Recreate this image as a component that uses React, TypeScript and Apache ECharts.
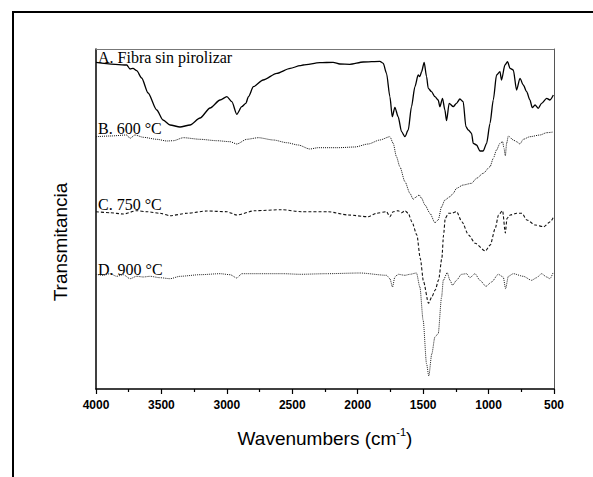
import React, { useEffect, useRef } from "react";
import * as echarts from "echarts";

// Wavenumber ticks (cm-1)
const xTicks = [4000, 3500, 3000, 2500, 2000, 1500, 1000, 500];

// Curve labels
const curveLabels = ["A. Fibra sin pirolizar", "B. 600 °C", "C. 750 °C", "D. 900 °C"];

// A. Fibra sin pirolizar (solid)
const aWave = [4000, 3765, 3740, 3717, 3689, 3651, 3602, 3536, 3488, 3434, 3358, 3281, 3205, 3128, 3052, 3000, 2962, 2924, 2886, 2855, 2835, 2797, 2723, 2618, 2516, 2440, 2417, 2289, 2188, 2136, 2060, 1958, 1831, 1805, 1780, 1754, 1736, 1716, 1691, 1665, 1639, 1614, 1589, 1563, 1538, 1525, 1512, 1492, 1474, 1461, 1436, 1410, 1385, 1372, 1352, 1334, 1321, 1301, 1270, 1245, 1219, 1194, 1173, 1155, 1130, 1117, 1092, 1066, 1041, 1015, 989, 964, 939, 913, 901, 875, 855, 836, 811, 786, 760, 735, 709, 684, 666, 645, 620, 595, 556, 531, 505];
const aTrans = [326.7, 324, 320, 320.7, 318.3, 311, 296, 279, 269, 264, 262, 264, 271, 281, 289, 292.3, 287.3, 274.7, 282.3, 285.7, 292.3, 302.3, 309, 315.7, 320.7, 323.3, 324, 326.3, 326.7, 325, 324.7, 327, 327.7, 325.7, 315.7, 292.3, 272.3, 281.7, 272.3, 257.3, 252.3, 259, 282.3, 302.3, 314, 312.3, 317.3, 326.7, 312.3, 300.7, 297.3, 292.3, 289, 282.3, 290.7, 279, 268.3, 285.7, 282.3, 285.7, 290, 287.3, 262.3, 259, 255.7, 245.7, 244, 238, 238, 245.7, 265.7, 289, 314, 317.3, 309, 324, 327.3, 320.7, 319, 299, 310.7, 304, 297.3, 289, 281.3, 284, 280.7, 285.7, 290.7, 289, 294];

// B. 600 °C (dotted)
const bWave = [4000, 3893, 3765, 3740, 3702, 3638, 3536, 3459, 3409, 3332, 3205, 3077, 2975, 2924, 2848, 2759, 2644, 2542, 2455, 2366, 2302, 2149, 2022, 1920, 1831, 1754, 1729, 1704, 1678, 1639, 1601, 1576, 1551, 1530, 1512, 1486, 1448, 1410, 1385, 1359, 1334, 1295, 1270, 1245, 1194, 1130, 1092, 1041, 989, 964, 939, 913, 893, 882, 872, 862, 849, 811, 786, 760, 735, 684, 607, 556, 505];
const bTrans = [252.3, 253, 254, 250.7, 254, 251.7, 249.7, 248, 248.3, 251.3, 249.7, 248.3, 247.3, 245, 249.7, 251.3, 249, 246.3, 244, 240, 241.3, 241.3, 242, 245, 249, 252.3, 245.7, 232.3, 222.3, 207.3, 195.7, 189.7, 192.3, 194, 190.7, 184, 175.7, 166.3, 169, 182.3, 189, 192.3, 195.7, 200.7, 204, 205.7, 210.7, 215.7, 222.3, 230.7, 239, 245.7, 247.3, 240.7, 233, 245.7, 253, 249, 247.3, 245, 249.7, 252.3, 254, 256.3, 257];

// C. 750 °C (dashed)
const cWave = [4000, 3893, 3791, 3689, 3612, 3511, 3434, 3306, 3153, 3000, 2924, 2786, 2583, 2430, 2226, 2073, 1920, 1857, 1780, 1754, 1729, 1691, 1665, 1639, 1614, 1586, 1548, 1522, 1497, 1459, 1433, 1408, 1382, 1357, 1344, 1331, 1306, 1285, 1245, 1204, 1153, 1102, 1025, 987, 949, 924, 893, 872, 859, 834, 786, 745, 707, 643, 579, 528, 503];
const cTrans = [177.3, 176.3, 175, 178.3, 177.3, 175.7, 173.3, 175.7, 178, 177.3, 174, 178.3, 179.3, 177.3, 177.3, 174, 172.3, 175.7, 177.3, 172.3, 177.3, 178.3, 176.3, 178.3, 175.7, 167.3, 154, 130.7, 107.3, 85.7, 92.3, 99, 109, 130.7, 154, 170.7, 175.7, 175.7, 177.3, 167.3, 154, 145.7, 138, 144, 160.7, 174, 178.3, 156, 170.7, 174, 175.7, 175.7, 169, 164, 162.3, 167.3, 172.3];

// D. 900 °C (dotted)
const dWave = [4000, 3944, 3893, 3842, 3791, 3740, 3689, 3638, 3587, 3511, 3434, 3358, 3205, 3052, 2975, 2924, 2886, 2746, 2568, 2440, 2239, 1983, 1780, 1754, 1734, 1716, 1691, 1639, 1601, 1551, 1525, 1500, 1474, 1457, 1434, 1410, 1385, 1359, 1346, 1316, 1295, 1275, 1245, 1207, 1168, 1143, 1104, 1066, 1020, 977, 926, 888, 870, 849, 811, 735, 671, 633, 595, 556, 531, 505];
const dTrans = [114.7, 113.7, 115.3, 112.7, 114.3, 110.3, 112.7, 112, 112.7, 111.3, 110.3, 112.7, 114.3, 115.3, 114.3, 111, 115.3, 115.3, 115.3, 114.7, 115.3, 116, 113.7, 110.3, 102, 112, 114.7, 113.7, 114.7, 116, 102, 68.7, 25.3, 13, 35, 52, 55.3, 92, 108.7, 116.3, 108.7, 103.7, 108.7, 114.7, 115.3, 111.3, 115.3, 108.7, 102.7, 107, 114.7, 112, 100.3, 112.7, 115.3, 112.7, 108.7, 111.3, 115.3, 112, 110.3, 117];

const zip = (w: number[], t: number[]) => w.map((v, i) => [v, t[i]]);

export default function App() {
  const ref = useRef<HTMLDivElement>(null);
  useEffect(() => {
    if (!ref.current) return;
    const chart = echarts.init(ref.current, null, { renderer: "svg" });
    const serif = "'Liberation Serif', 'Times New Roman', serif";
    const sans = "'Liberation Sans', Arial, sans-serif";
    const mkSeries = (data: number[][], dash: any, width: number, color: string) => ({
      type: "line",
      data,
      showSymbol: false,
      smooth: 0.25,
      smoothMonotone: "x",
      lineStyle: { color, width, type: dash },
      xAxisIndex: 0,
      yAxisIndex: 0,
    });
    chart.setOption({
      animation: false,
      backgroundColor: "#fff",
      grid: { left: 96, top: 49, right: 39, bottom: 88, containLabel: false },
      xAxis: [
        {
          type: "value",
          min: 500,
          max: 4000,
          interval: 500,
          inverse: true,
          position: "bottom",
          axisLine: { show: true, onZero: false, lineStyle: { color: "#000", width: 1.5 } },
          axisTick: { show: true, length: 5, lineStyle: { color: "#000", width: 1.2 } },
          minorTick: { show: true, splitNumber: 2, length: 3, lineStyle: { color: "#000", width: 1.2 } },
          axisLabel: {
            margin: 10,
            color: "#000",
            fontFamily: sans,
            fontWeight: "bold",
            fontSize: 12,
            formatter: (v: number) => (xTicks.includes(v) ? String(v) : ""),
          },
          splitLine: { show: false },
        },
        {
          type: "value",
          min: 500,
          max: 4000,
          inverse: true,
          position: "top",
          axisLine: { show: true, onZero: false, lineStyle: { color: "#777", width: 1 } },
          axisTick: { show: false },
          axisLabel: { show: false },
          splitLine: { show: false },
        },
      ],
      yAxis: [
        {
          type: "value",
          min: 0,
          max: 340,
          position: "left",
          axisLine: { show: true, onZero: false, lineStyle: { color: "#000", width: 1.5 } },
          axisTick: { show: false },
          axisLabel: { show: false },
          splitLine: { show: false },
        },
        {
          type: "value",
          min: 0,
          max: 340,
          position: "right",
          axisLine: { show: true, onZero: false, lineStyle: { color: "#555", width: 1 } },
          axisTick: { show: false },
          axisLabel: { show: false },
          splitLine: { show: false },
        },
      ],
      series: [
        mkSeries(zip(aWave, aTrans), "solid", 1.3, "#000"),
        mkSeries(zip(bWave, bTrans), [1, 1], 1, "#111"),
        mkSeries(zip(cWave, cTrans), [3, 2], 1.1, "#111"),
        mkSeries(zip(dWave, dTrans), [1, 1], 1, "#222"),
      ],
      graphic: [
        { type: "line", shape: { x1: 13, y1: 12, x2: 600, y2: 12 }, style: { stroke: "#000", lineWidth: 2 } },
        { type: "line", shape: { x1: 13, y1: 11, x2: 13, y2: 480 }, style: { stroke: "#000", lineWidth: 2 } },
        { type: "text", x: 98, y: 65.5, style: { text: curveLabels[0], font: `16px ${serif}`, fill: "#000", verticalAlign: "bottom" } },
        { type: "text", x: 98, y: 136.5, style: { text: curveLabels[1], font: `16px ${serif}`, fill: "#000", verticalAlign: "bottom" } },
        { type: "text", x: 98, y: 212, style: { text: curveLabels[2], font: `16px ${serif}`, fill: "#000", verticalAlign: "bottom" } },
        { type: "text", x: 98, y: 277, style: { text: curveLabels[3], font: `16px ${serif}`, fill: "#000", verticalAlign: "bottom" } },
        {
          type: "text",
          x: 60,
          y: 242,
          rotation: Math.PI / 2,
          style: { text: "Transmitancia", font: `19px ${sans}`, fill: "#000", align: "center", verticalAlign: "middle" },
        },
        {
          type: "text",
          x: 325,
          y: 437,
          style: {
            text: "{a|Wavenumbers (cm}{s|-1}{a|)}",
            align: "center",
            verticalAlign: "middle",
            rich: {
              a: { fontFamily: sans, fontSize: 19, fill: "#000", color: "#000", lineHeight: 22, verticalAlign: "bottom" },
              s: { fontFamily: sans, fontSize: 11, fill: "#000", color: "#000", lineHeight: 22, verticalAlign: "top" },
            },
          },
        },
      ],
    });
    return () => chart.dispose();
  }, []);
  return <div ref={ref} style={{ position: "absolute", left: 0, top: 0, width: 593, height: 477 }} />;
}
